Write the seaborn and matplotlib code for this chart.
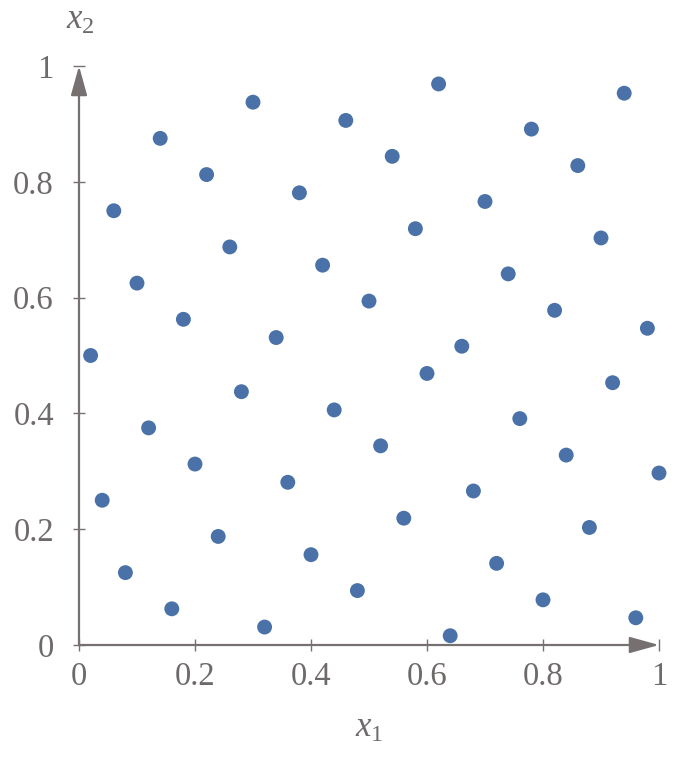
import matplotlib
matplotlib.use("Agg")
import matplotlib.pyplot as plt
import seaborn as sns
import pandas as pd

x_values = [0.02, 0.04, 0.06, 0.08, 0.10, 0.12, 0.14, 0.16, 0.18, 0.20,
            0.22, 0.24, 0.26, 0.28, 0.30, 0.32, 0.34, 0.36, 0.38, 0.40,
            0.42, 0.44, 0.46, 0.48, 0.50, 0.52, 0.54, 0.56, 0.58, 0.60,
            0.62, 0.64, 0.66, 0.68, 0.70, 0.72, 0.74, 0.76, 0.78, 0.80,
            0.82, 0.84, 0.86, 0.88, 0.90, 0.92, 0.94, 0.96, 0.98, 1.00]
y_values = [0.500, 0.250, 0.750, 0.125, 0.625, 0.375, 0.875, 0.0625, 0.5625, 0.3125,
            0.8125, 0.1875, 0.6875, 0.4375, 0.9375, 0.031, 0.531, 0.281, 0.781, 0.156,
            0.656, 0.406, 0.906, 0.094, 0.594, 0.344, 0.844, 0.219, 0.719, 0.469,
            0.969, 0.016, 0.516, 0.266, 0.766, 0.141, 0.641, 0.391, 0.891, 0.078,
            0.578, 0.328, 0.828, 0.203, 0.703, 0.453, 0.953, 0.047, 0.547, 0.297]
tick_values = [0, 0.2, 0.4, 0.6, 0.8, 1]
tick_labels = ["0", "0.2", "0.4", "0.6", "0.8", "1"]

sns.set_style("white")
plt.rcParams['font.family'] = ['Liberation Serif', 'DejaVu Serif']
plt.rcParams['mathtext.fontset'] = 'custom'
plt.rcParams['mathtext.rm'] = 'Liberation Serif'
plt.rcParams['mathtext.it'] = 'Liberation Serif:italic'

gray = "#767070"
text_gray = "#6f6a6a"
dot = "#4a72a8"

W, H = 684, 757
fig = plt.figure(figsize=(W / 100, H / 100), dpi=100)
ax = fig.add_axes([79 / W, (H - 645) / H, 580 / W, 579 / H])

df = pd.DataFrame({"x": x_values, "y": y_values})
sns.scatterplot(data=df, x="x", y="y", ax=ax, s=115, color=dot,
                edgecolor="none", clip_on=False, zorder=3)

ax.set_xlim(0, 1)
ax.set_ylim(0, 1)
for sp in ax.spines.values():
    sp.set_visible(False)

arrow_style = "-|>,head_length=0.9,head_width=0.25"
ax.annotate("", xy=(1, 0), xytext=(0, 0), xycoords="data",
            arrowprops=dict(arrowstyle=arrow_style,
                            color=gray, lw=1.6, mutation_scale=20,
                            shrinkA=0, shrinkB=0), zorder=2)
ax.annotate("", xy=(0, 1), xytext=(0, 0), xycoords="data",
            arrowprops=dict(arrowstyle=arrow_style,
                            color=gray, lw=1.6, mutation_scale=20,
                            shrinkA=0, shrinkB=0), zorder=2)

ax.set_xticks(tick_values)
ax.set_xticklabels(tick_labels)
ax.set_yticks(tick_values)
ax.set_yticklabels(tick_labels)
ax.tick_params(axis="both", direction="inout", length=8, width=1.0,
               color=gray, labelcolor=text_gray, labelsize=23.5,
               bottom=True, left=True)
ax.tick_params(axis="x", pad=8)
ax.tick_params(axis="y", pad=14)

ax.set_xlabel("")
ax.set_ylabel("")
fig.text(369 / W, 1 - 728 / H, r"$x_1$", ha="center", va="center",
         fontsize=25, color=text_gray)
fig.text(80 / W, 1 - 20 / H, r"$x_2$", ha="center", va="center",
         fontsize=25, color=text_gray)

fig.savefig("out.png", dpi=100)
